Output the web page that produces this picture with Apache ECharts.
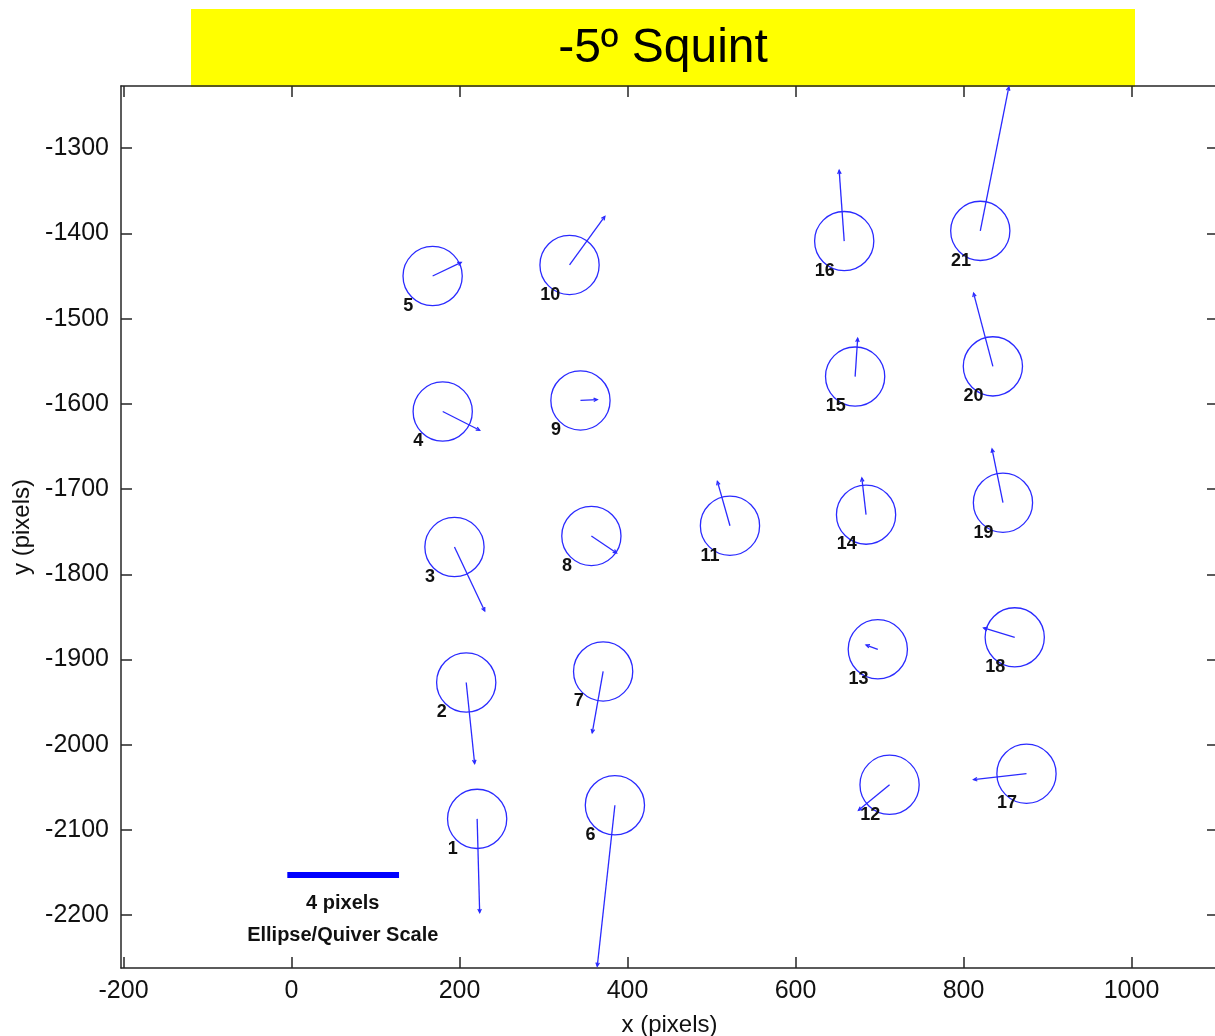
<!DOCTYPE html>
<html>
<head>
<meta charset="utf-8">
<title>-5º Squint</title>
<script src="https://cdn.jsdelivr.net/npm/echarts@6/dist/echarts.min.js"></script>
<style>
    html, body { margin: 0; padding: 0; background: #fff; }
    #chart { width: 1215px; height: 1036px; }
</style>
</head>
<body>
<div id="chart"></div>
<script>
// Point ids, ellipse centres and quiver tips (data units)
var pointIds = [1, 2, 3, 4, 5, 6, 7, 8, 9, 10, 11, 12, 13, 14, 15, 16, 17, 18, 19, 20, 21];
var centerX = [221, 208, 194, 180, 168, 385, 371, 357, 344, 331, 522, 712, 698, 684, 671, 658, 875, 861, 847, 835, 820];
var centerY = [-2087, -1927, -1768, -1609, -1450, -2071, -1914, -1755, -1596, -1437, -1743, -2047, -1888, -1730, -1568, -1409, -2034, -1874, -1716, -1556, -1397];
var tipX = [224, 218, 230, 224, 202, 364, 358, 387, 364, 373, 507, 675, 684, 679, 674, 652, 812, 824, 834, 812, 854];
var tipY = [-2197, -2022, -1843, -1631, -1434, -2260, -1986, -1775, -1595, -1380, -1691, -2077, -1883, -1687, -1523, -1326, -2041, -1863, -1653, -1470, -1228];
var ellipseRadius = 35;

// Scale bar and its captions
var scaleBarX = [-5, 128];
var scaleBarY = -2153;
var scaleTextX = [61, 61];
var scaleTextY = [-2186, -2224];
var scaleTexts = ['4 pixels', 'Ellipse/Quiver Scale'];

// Tick labels
var xTicks = [-200, 0, 200, 400, 600, 800, 1000];
var yTicks = [-2200, -2100, -2000, -1900, -1800, -1700, -1600, -1500, -1400, -1300];

var chartTitle = '-5º Squint';

var FONT = '"Liberation Sans", Arial, sans-serif';
var BLUE = '#2a2aff';

var chartDom = document.getElementById('chart');
var chart = echarts.init(chartDom);

var circleData = pointIds.map(function(id, i) {
    return [centerX[i], centerY[i], id];
});
var arrowData = pointIds.map(function(id, i) {
    return [centerX[i], centerY[i], tipX[i], tipY[i]];
});
var scaleTextData = scaleTexts.map(function(t, i) {
    return { value: [scaleTextX[i], scaleTextY[i]], name: t };
});

var axisLineStyle = { color: '#262626', width: 1.5 };

function plainNum(v) {
    return String(v);
}

function baseX(pos, showLabel) {
    return {
        type: 'value',
        position: pos,
        min: -203,
        max: 1103,
        name: showLabel ? 'x (pixels)' : '',
        nameLocation: 'middle',
        nameGap: 45,
        nameTextStyle: { fontFamily: FONT, fontSize: 24, color: '#111' },
        axisLine: { show: true, onZero: false, lineStyle: axisLineStyle },
        axisTick: { show: true, inside: true, length: 11, customValues: xTicks, lineStyle: axisLineStyle },
        axisLabel: { show: showLabel, customValues: xTicks, formatter: plainNum, margin: 11, fontFamily: FONT, fontSize: 25, color: '#111' },
        splitLine: { show: false }
    };
}

function baseY(pos, showLabel) {
    return {
        type: 'value',
        position: pos,
        min: -2262,
        max: -1227,
        name: showLabel ? 'y (pixels)' : '',
        nameLocation: 'middle',
        nameGap: 84,
        nameRotate: 90,
        nameTextStyle: { fontFamily: FONT, fontSize: 24, color: '#111' },
        axisLine: { show: true, onZero: false, lineStyle: axisLineStyle },
        axisTick: { show: true, inside: true, length: 11, customValues: yTicks, lineStyle: axisLineStyle },
        axisLabel: { show: showLabel, customValues: yTicks, formatter: plainNum, margin: 12, fontFamily: FONT, fontSize: 25, color: '#111' },
        splitLine: { show: false }
    };
}

var option = {
    animation: false,
    backgroundColor: '#fff',
    grid: { left: 121, right: -3, top: 86, bottom: 68, containLabel: false, outerBoundsMode: 'none' },
    xAxis: [baseX('bottom', true), baseX('top', false)],
    yAxis: [baseY('left', true), baseY('right', false)],
    graphic: [{
        type: 'group',
        z: 100,
        children: [{
            type: 'rect',
            shape: { x: 191, y: 9, width: 944, height: 78 },
            style: { fill: '#ffff00' }
        }, {
            type: 'text',
            x: 663,
            y: 49,
            style: {
                text: chartTitle,
                fill: '#000',
                fontFamily: FONT,
                fontSize: 48,
                align: 'center',
                verticalAlign: 'middle'
            }
        }]
    }],
    series: [{
        // ellipses with point numbers
        type: 'custom',
        data: circleData,
        encode: { x: 0, y: 1 },
        renderItem: function(params, api) {
            var c = api.coord([api.value(0), api.value(1)]);
            var s = api.size([ellipseRadius, ellipseRadius]);
            var r = (s[0] + s[1]) / 2;
            return {
                type: 'group',
                children: [{
                    type: 'circle',
                    shape: { cx: c[0], cy: c[1], r: r },
                    style: { fill: 'none', stroke: BLUE, lineWidth: 1.3 }
                }, {
                    type: 'text',
                    x: c[0] - s[0],
                    y: c[1] + s[1],
                    style: {
                        text: String(api.value(2)),
                        fill: '#111',
                        fontFamily: FONT,
                        fontSize: 18,
                        fontWeight: 'bold',
                        align: 'left',
                        verticalAlign: 'middle'
                    }
                }]
            };
        }
    }, {
        // quiver arrows
        type: 'custom',
        data: arrowData,
        encode: { x: [0, 2], y: [1, 3] },
        renderItem: function(params, api) {
            var p0 = api.coord([api.value(0), api.value(1)]);
            var p1 = api.coord([api.value(2), api.value(3)]);
            var ang = Math.atan2(p1[1] - p0[1], p1[0] - p0[0]);
            var h = 4, a = 0.45;
            var l = [p1[0] - h * Math.cos(ang - a), p1[1] - h * Math.sin(ang - a)];
            var rr = [p1[0] - h * Math.cos(ang + a), p1[1] - h * Math.sin(ang + a)];
            return {
                type: 'group',
                children: [{
                    type: 'line',
                    shape: { x1: p0[0], y1: p0[1], x2: p1[0], y2: p1[1] },
                    style: { stroke: BLUE, lineWidth: 1.3 }
                }, {
                    type: 'polyline',
                    shape: { points: [l, p1, rr] },
                    style: { stroke: BLUE, lineWidth: 1.3, fill: 'none' }
                }]
            };
        }
    }, {
        // scale bar
        type: 'line',
        data: [[scaleBarX[0], scaleBarY], [scaleBarX[1], scaleBarY]],
        symbol: 'none',
        lineStyle: { color: '#0000ff', width: 6 }
    }, {
        // scale captions
        type: 'custom',
        data: scaleTextData,
        encode: { x: 0, y: 1 },
        renderItem: function(params, api) {
            var c = api.coord([api.value(0), api.value(1)]);
            return {
                type: 'text',
                x: c[0],
                y: c[1],
                style: {
                    text: scaleTexts[params.dataIndex],
                    fill: '#111',
                    fontFamily: FONT,
                    fontSize: 20,
                    fontWeight: 'bold',
                    align: 'center',
                    verticalAlign: 'middle'
                }
            };
        }
    }]
};

chart.setOption(option);
</script>
</body>
</html>
